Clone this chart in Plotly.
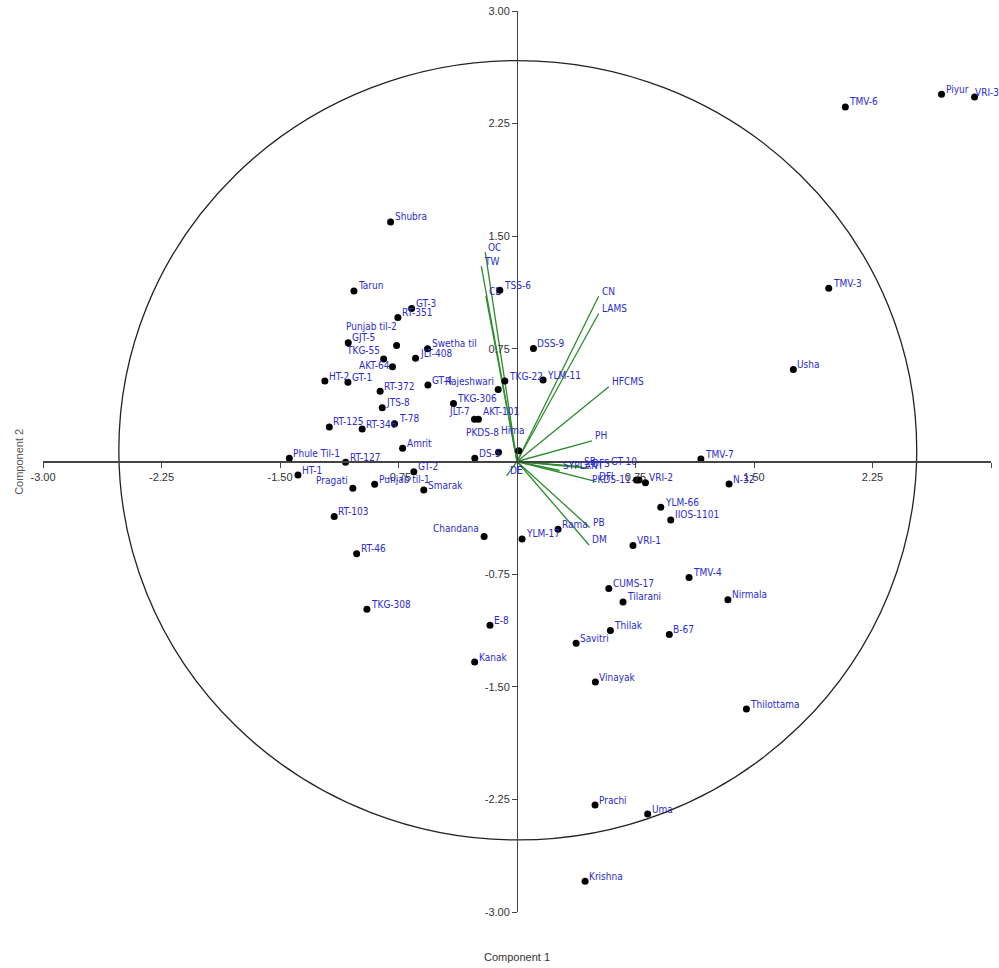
import plotly.graph_objects as go

# ---- genotype scores (Component 1, Component 2) ----
genotypes = ["Shubra", "Tarun", "GT-3", "RT-351", "Punjab til-2", "GJT-5", "TKG-55", "AKT-64",
             "JLT-408", "Swetha til", "HT-2", "GT-1", "GT-4", "RT-372", "JTS-8", "RT-125",
             "RT-346", "T-78", "Rajeshwari", "TKG-22", "TKG-306", "JLT-7", "AKT-101", "TSS-6",
             "DSS-9", "YLM-11", "Hima", "PKDS-8", "DS-5", "Amrit", "Phule Til-1", "RT-127",
             "HT-1", "GT-2", "Pragati", "Punjab til-1", "Smarak", "RT-103", "Chandana", "YLM-17",
             "RT-46", "TKG-308", "E-8", "Kanak", "TMV-7", "GT-10", "PKDS-11", "VRI-2", "N-32",
             "YLM-66", "IIOS-1101", "Rama", "VRI-1", "TMV-4", "CUMS-17", "Tilarani", "Nirmala",
             "Thilak", "B-67", "Savitri", "Vinayak", "Thilottama", "Prachi", "Uma", "Krishna",
             "TMV-6", "Piyur", "VRI-3", "TMV-3", "Usha"]
pc1 = [-0.800, -1.032, -0.667, -0.754, -0.762, -1.068, -0.844, -0.788,
       -0.642, -0.566, -1.216, -1.070, -0.564, -0.866, -0.853, -1.188,
       -0.980, -0.775, -0.119, -0.077, -0.402, -0.269, -0.244, -0.109,
       0.104, 0.165, 0.011, -0.117, -0.267, -0.724, -1.441, -1.085,
       -1.386, -0.653, -1.039, -0.901, -0.590, -1.157, -0.208, 0.032,
       -1.015, -0.950, -0.171, -0.268, 1.164, 0.756, 0.772, 0.813, 1.342,
       0.910, 0.973, 0.260, 0.734, 1.089, 0.581, 0.671, 1.335,
       0.591, 0.964, 0.374, 0.496, 1.452, 0.494, 0.827, 0.431,
       2.078, 2.687, 2.896, 1.973, 1.749]
pc2 = [1.595, 1.136, 1.019, 0.959, 0.773, 0.790, 0.682, 0.631,
       0.687, 0.751, 0.536, 0.527, 0.509, 0.467, 0.358, 0.230,
       0.216, 0.252, 0.480, 0.536, 0.387, 0.281, 0.281, 1.141,
       0.753, 0.542, 0.072, 0.061, 0.021, 0.088, 0.021, -0.005,
       -0.090, -0.068, -0.178, -0.152, -0.190, -0.367, -0.500, -0.516,
       -0.615, -0.984, -1.090, -1.336, 0.016, -0.123, -0.123, -0.141, -0.150,
       -0.305, -0.389, -0.451, -0.560, -0.773, -0.846, -0.935, -0.921,
       -1.126, -1.152, -1.210, -1.469, -1.649, -2.288, -2.348, -2.796,
       2.361, 2.445, 2.427, 1.154, 0.613]

# ---- variable loadings ----
variables = ["OC", "TW", "CL", "CN", "LAMS", "HFCMS", "PH", "DFS", "SB", "SYPLANT",
             "DFI", "PB", "DM", "DE"]
load1 = [-0.201, -0.226, -0.197, 0.517, 0.517, 0.581, 0.474, 0.456, 0.408, 0.270,
         0.503, 0.460, 0.456, -0.066]
load2 = [1.394, 1.301, 1.101, 1.101, 0.986, 0.498, 0.138, -0.045, -0.034, -0.060,
         -0.134, -0.440, -0.556, -0.096]

# ---- axes ----
tick_vals = [-3.0, -2.25, -1.5, -0.75, 0.75, 1.5, 2.25, 3.0]
tick_text = ["-3.00", "-2.25", "-1.50", "-0.75", "0.75", "1.50", "2.25", "3.00"]

# confidence ellipse extents
ell_x = [-2.52, 2.53]
ell_y = [-2.52, 2.67]

LABEL_FONT = dict(family="Liberation Sans Narrow, DejaVu Sans Condensed, Arial", size=10,
                  color="#2b2bcc")

# label placement overrides: (xanchor, xshift, yshift)
label_place = {
    "Punjab til-2": ("right", 2, 19),
    "TKG-55": ("right", -2, 9),
    "AKT-64": ("right", -1, 1),
    "Rajeshwari": ("right", -2, 8),
    "JLT-7": ("right", -3, 8),
    "AKT-101": ("left", 3, 8),
    "PKDS-8": ("right", 2, 20),
    "Hima": ("center", -6, 20),
    "Pragati": ("right", -3, 8),
    "Chandana": ("right", -3, 8),
    "GT-10": ("right", 3, 18),
    "PKDS-11": ("right", -6, 0),
    "VRI-3": ("left", -2, 5),
}

fig = go.Figure()

# loading vectors
lx, ly = [], []
for a, b in zip(load1, load2):
    lx += [0, a, None]
    ly += [0, b, None]
fig.add_trace(go.Scatter(x=lx, y=ly, mode="lines",
                         line=dict(color="#2e8b2e", width=1.3),
                         hoverinfo="skip", showlegend=False))

# genotype points
fig.add_trace(go.Scatter(x=pc1, y=pc2, mode="markers",
                         marker=dict(color="black", size=7),
                         text=genotypes, hoverinfo="text", showlegend=False))

annotations = []
for n, a, b in zip(genotypes, pc1, pc2):
    xa, xs, ys = label_place.get(n, ("left", 2, 5))
    annotations.append(dict(x=a, y=b, xref="x", yref="y", text=n, showarrow=False,
                            xanchor=xa, yanchor="middle", xshift=xs, yshift=ys,
                            font=LABEL_FONT))
for n, a, b in zip(variables, load1, load2):
    annotations.append(dict(x=a, y=b, xref="x", yref="y", text=n, showarrow=False,
                            xanchor="left", yanchor="middle", xshift=1, yshift=5,
                            font=LABEL_FONT))

annotations.append(dict(x=0.5, y=-0.05, xref="paper", yref="paper", text="Component 1",
                        showarrow=False, xanchor="center", yanchor="middle",
                        font=dict(family="Liberation Sans Narrow, Arial", size=11, color="#333")))
annotations.append(dict(x=-0.026, y=0.5, xref="paper", yref="paper", text="Component 2",
                        showarrow=False, xanchor="center", yanchor="middle", textangle=-90,
                        font=dict(family="Liberation Sans Narrow, Arial", size=11, color="#555")))

AX_FONT = dict(family="Liberation Sans Narrow, Arial", size=11, color="#333")
fig.update_layout(
    width=999, height=968,
    margin=dict(l=43, r=8, t=11, b=56),
    paper_bgcolor="white", plot_bgcolor="white",
    xaxis=dict(range=[-3, 3], anchor="free", position=0.5, showline=True,
               linecolor="#444", linewidth=2, ticks="outside", ticklen=5, tickcolor="#444",
               tickvals=tick_vals, ticktext=tick_text, tickfont=AX_FONT,
               showgrid=False, zeroline=False, automargin=False),
    yaxis=dict(range=[-3, 3], anchor="free", position=0.5, showline=True,
               linecolor="#444", linewidth=1, ticks="outside", ticklen=5, tickcolor="#444",
               tickvals=tick_vals, ticktext=tick_text, tickfont=AX_FONT,
               showgrid=False, zeroline=False, automargin=False),
    shapes=[dict(type="circle", xref="x", yref="y", x0=ell_x[0], x1=ell_x[1],
                 y0=ell_y[0], y1=ell_y[1], line=dict(color="#222", width=1.3), layer="below")],
    annotations=annotations,
)

fig.write_html("out.html", config={"displayModeBar": False},
               post_script="document.body.style.margin='0';")
